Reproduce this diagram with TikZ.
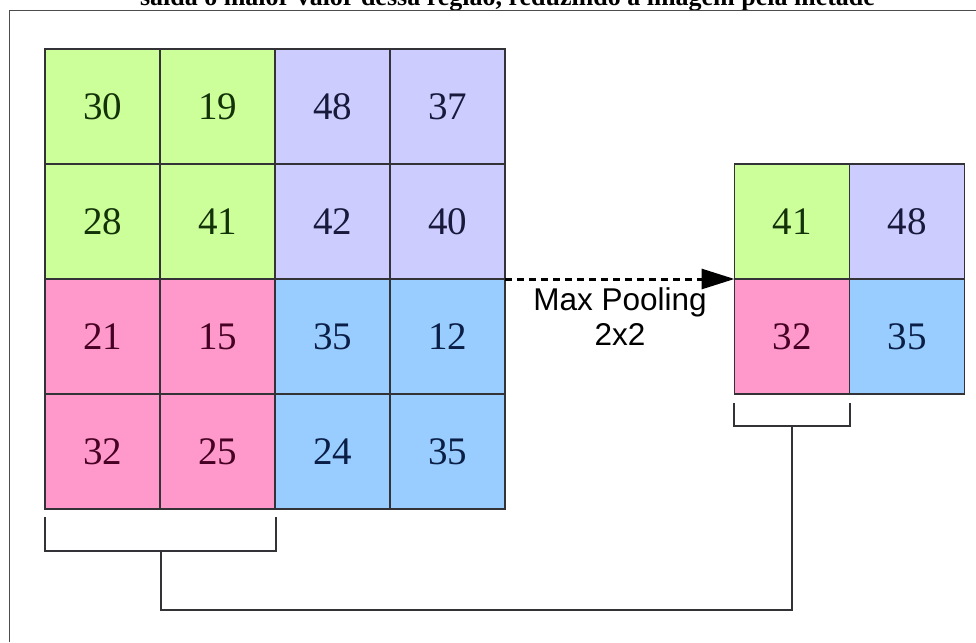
\documentclass[tikz,border=0pt]{standalone}
\usepackage{fontspec}
\setmainfont{Liberation Serif}
\setsansfont{Liberation Sans}
\usetikzlibrary{arrows.meta}
\definecolor{cgreen}{RGB}{204,255,153}
\definecolor{clav}{RGB}{204,204,255}
\definecolor{cpink}{RGB}{255,153,204}
\definecolor{cblue}{RGB}{153,204,255}
\definecolor{tgreen}{RGB}{20,50,10}
\definecolor{tlav}{RGB}{25,25,60}
\definecolor{tpink}{RGB}{70,0,35}
\definecolor{tblue}{RGB}{10,30,70}
\definecolor{gridline}{RGB}{50,50,55}
\tikzset{
  cell/.style={draw=gridline, line width=1.4pt, minimum width=115pt, minimum height=115pt,
    inner sep=0pt, outer sep=0pt, font=\fontsize{39}{40}\selectfont},
  gcell/.style={cell, fill=cgreen, text=tgreen},
  lcell/.style={cell, fill=clav, text=tlav},
  pcell/.style={cell, fill=cpink, text=tpink},
  bcell/.style={cell, fill=cblue, text=tblue},
  bracket/.style={draw=gridline, line width=1.4pt},
  frameline/.style={draw=black!70, line width=1.6pt},
  poolarrow/.style={line width=3pt, dash pattern=on 7pt off 5pt, -{Triangle[length=33pt,width=20pt]}},
  pooltext/.style={font=\sffamily\fontsize{31.5}{35}\selectfont, inner sep=0pt}
}
\begin{document}
\begin{tikzpicture}[x=1pt,y=-1pt]
\clip (0,0) rectangle (976,642);
\fill[white] (0,0) rectangle (976,642);
% title (cut off at top)
\node[anchor=base, inner sep=0pt, font=\bfseries\fontsize{26}{28}\selectfont] (title) at (507.5,6) {saída o maior valor dessa região, reduzindo a imagem pela metade};
% frame
\draw[frameline] (9.5,642) -- (9.5,10.5) -- (976,10.5);
% left grid
\node[gcell] (L11) at (102.5,106.5) {30};
\node[gcell] (L12) at (217.5,106.5) {19};
\node[lcell] (L13) at (332.5,106.5) {48};
\node[lcell] (L14) at (447.5,106.5) {37};
\node[gcell] (L21) at (102.5,221.5) {28};
\node[gcell] (L22) at (217.5,221.5) {41};
\node[lcell] (L23) at (332.5,221.5) {42};
\node[lcell] (L24) at (447.5,221.5) {40};
\node[pcell] (L31) at (102.5,336.5) {21};
\node[pcell] (L32) at (217.5,336.5) {15};
\node[bcell] (L33) at (332.5,336.5) {35};
\node[bcell] (L34) at (447.5,336.5) {12};
\node[pcell] (L41) at (102.5,451.5) {32};
\node[pcell] (L42) at (217.5,451.5) {25};
\node[bcell] (L43) at (332.5,451.5) {24};
\node[bcell] (L44) at (447.5,451.5) {35};
% right grid
\node[gcell] (R11) at (792,221.5) {41};
\node[lcell] (R12) at (907,221.5) {48};
\node[pcell] (R21) at (792,336.5) {32};
\node[bcell] (R22) at (907,336.5) {35};
% arrow
\draw[poolarrow] (L24.south east) -- (R11.south west);
\node[pooltext, anchor=base] (mp1) at (620,310) {Max Pooling};
\node[pooltext, anchor=base] (mp2) at (620,345) {2x2};
% brackets
\coordinate (lb1) at (45,517);
\coordinate (lb2) at (45,551);
\coordinate (lb3) at (276,551);
\coordinate (lb4) at (276,517);
\coordinate (lbm) at (161,551);
\coordinate (rb1) at (734,403);
\coordinate (rb2) at (734,426);
\coordinate (rb3) at (850,426);
\coordinate (rb4) at (850,403);
\coordinate (rbm) at (792,426);
\draw[bracket] (lb1) -- (lb2) -- (lb3) -- (lb4);
\draw[bracket] (rb1) -- (rb2) -- (rb3) -- (rb4);
\draw[bracket] (lbm) |- (rbm |- 0,610) -- (rbm);
\end{tikzpicture}
\end{document}
